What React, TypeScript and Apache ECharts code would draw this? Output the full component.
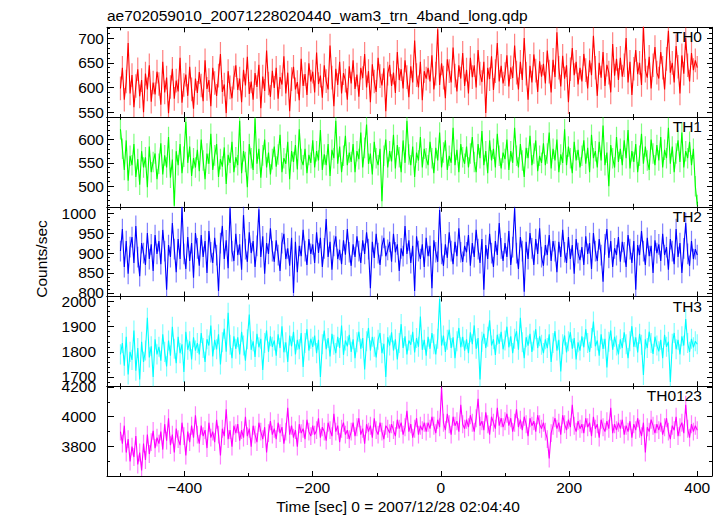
import React, { useEffect, useRef } from 'react';
import * as echarts from 'echarts';

const TITLE = 'ae702059010_20071228020440_wam3_trn_4band_long.qdp';
const X_LABEL = 'Time [sec] 0 = 2007/12/28 02:04:40';
const Y_LABEL = 'Counts/sec';

const T_START = -500;
const T_STEP = 3;
const X_MIN = -521;
const X_MAX = 423;
const X_MAJOR = [-400, -200, 0, 200, 400];
const X_MINOR = [-500, -300, -100, 100, 300];

const BANDS = ['TH0', 'TH1', 'TH2', 'TH3', 'TH0123'];
const COLORS = ['#ff0000', '#00ff00', '#0000ff', '#00ffff', '#ff00ff'];
const Y_MIN = [540, 456, 791, 1663, 3603];
const Y_MAX = [722, 648, 1016, 2020, 4204];
const Y_MAJOR = [
  [550, 600, 650, 700],
  [500, 550, 600],
  [800, 850, 900, 950, 1000],
  [1700, 1800, 1900, 2000],
  [3800, 4000, 4200],
];
const Y_MINOR = [
  [550, 560, 570, 580, 590, 610, 620, 630, 640, 660, 670, 680, 690, 710, 720],
  [460, 470, 480, 490, 510, 520, 530, 540, 560, 570, 580, 590, 610, 620, 630, 640],
  [810, 820, 830, 840, 860, 870, 880, 890, 910, 920, 930, 940, 960, 970, 980, 990, 1010],
  [1680, 1720, 1740, 1760, 1780, 1820, 1840, 1860, 1880, 1920, 1940, 1960, 1980, 2020],
  [3700, 3900, 4100],
];
const ERR = [24, 22, 26, 40, 60];

const TH0 = [
  598, 640, 575, 612, 690, 588, 625, 560, 603, 637, 582, 615, 550, 628, 596, 645, 571, 610, 586, 632,
  607, 565, 652, 590, 620, 548, 601, 638, 577, 614, 592, 660, 569, 605, 626, 583, 642, 596, 557, 618,
  589, 631, 604, 572, 655, 597, 615, 562, 640, 609, 583, 624, 668, 591, 606, 548, 633, 600, 578, 620,
  645, 595, 618, 570, 636, 604, 662, 587, 612, 575, 629, 601, 646, 558, 622, 593, 675, 608, 581, 634,
  599, 640, 577, 621, 606, 663, 588, 630, 552, 617, 642, 596, 611, 574, 658, 603, 627, 585, 649, 612,
  632, 590, 671, 607, 624, 579, 645, 613, 596, 685, 620, 562, 638, 605, 652, 588, 629, 614, 575, 643,
  608, 655, 597, 626, 581, 640, 619, 668, 600, 633, 570, 647, 612, 591, 660, 623, 604, 639, 552, 628,
  646, 603, 630, 589, 672, 615, 637, 598, 655, 621, 580, 643, 610, 695, 625, 600, 652, 574, 633, 618,
  640, 612, 665, 596, 628, 718, 605, 649, 620, 578, 657, 633, 610, 681, 624, 592, 645, 618, 670, 603,
  636, 588, 660, 621, 645, 600, 676, 628, 611, 652, 548, 640, 617, 663, 595, 633, 690, 612, 644, 608,
  627, 665, 602, 641, 619, 685, 630, 596, 652, 615, 700, 628, 575, 644, 610, 667, 634, 591, 653, 622,
  648, 608, 675, 632, 590, 656, 621, 712, 640, 602, 664, 618, 645, 570, 637, 680, 625, 652, 606, 640,
  612, 668, 635, 598, 655, 625, 705, 640, 583, 650, 620, 672, 603, 646, 630, 590, 688, 624, 658, 615,
  660, 622, 645, 700, 610, 652, 585, 638, 676, 627, 650, 605, 725, 634, 620, 662, 598, 645, 682, 630,
  618, 672, 640, 596, 658, 715, 630, 650, 610, 684, 642, 588, 665, 628, 700, 645, 612, 670, 635, 655,
  640,
];
const TH1 = [
  622, 580, 535, 598, 512, 565, 545, 590, 520, 558, 503, 575, 540, 562, 498, 585, 530, 552, 570, 515,
  548, 592, 525, 566, 540, 605, 518, 557, 458, 575, 545, 590, 528, 563, 638, 550, 585, 522, 560, 540,
  578, 532, 600, 555, 515, 570, 548, 612, 535, 566, 590, 520, 558, 542, 583, 505, 567, 550, 595, 530,
  562, 545, 640, 528, 575, 552, 498, 590, 560, 535, 645, 548, 580, 518, 566, 600, 540, 572, 525, 558,
  585, 542, 568, 610, 530, 560, 548, 595, 515, 575, 552, 588, 536, 622, 558, 545, 580, 528, 567, 550,
  598, 540, 575, 555, 620, 535, 568, 545, 590, 522, 578, 560, 640, 548, 585, 530, 565, 608, 545, 572,
  552, 590, 530, 575, 558, 615, 540, 582, 632, 548, 570, 525, 595, 560, 545, 580, 468, 565, 600, 540,
  575, 553, 610, 538, 588, 562, 530, 598, 550, 640, 568, 545, 585, 520, 572, 555, 605, 540, 580, 560,
  545, 595, 560, 528, 582, 555, 615, 540, 572, 598, 535, 565, 550, 625, 545, 578, 530, 590, 562, 548,
  585, 540, 570, 605, 552, 530, 590, 560, 618, 545, 575, 528, 598, 555, 580, 540, 612, 565, 538, 572,
  558, 600, 535, 575, 550, 625, 565, 540, 590, 555, 520, 582, 560, 608, 545, 570, 598, 532, 565, 550,
  592, 545, 570, 615, 538, 580, 555, 600, 530, 568, 550, 622, 545, 585, 560, 528, 595, 555, 578, 540,
  565, 598, 548, 582, 530, 610, 560, 575, 540, 595, 555, 630, 545, 572, 500, 588, 560, 540, 605, 552,
  580, 545, 598, 560, 620, 538, 575, 552, 590, 530, 565, 612, 548, 585, 555, 535, 600, 570, 545, 588,
  555, 605, 540, 578, 560, 625, 548, 585, 530, 570, 598, 552, 615, 540, 575, 560, 595, 545, 580, 500,
  460,
];
const TH2 = [
  905, 960, 865, 930, 848, 915, 940, 875, 968, 890, 842, 925, 900, 870, 950, 885, 922, 855, 945, 898,
  930, 872, 958, 905, 808, 920, 890, 975, 910, 852, 935, 885, 1015, 898, 860, 940, 880, 925, 838, 950,
  912, 868, 945, 890, 930, 850, 955, 902, 875, 938, 895, 805, 925, 968, 885, 932, 862, 1012, 905, 880,
  948, 895, 922, 858, 995, 910, 878, 952, 900, 930, 865, 918, 1010, 890, 942, 848, 925, 898, 962, 905,
  878, 932, 895, 855, 925, 948, 885, 912, 868, 938, 800, 928, 852, 918, 892, 958, 905, 870, 935, 898,
  922, 875, 952, 900, 938, 865, 912, 985, 890, 928, 858, 918, 942, 885, 908, 872, 932, 896, 960, 902,
  868, 922, 890, 942, 905, 875, 932, 898, 952, 910, 812, 928, 888, 948, 900, 870, 918, 938, 892, 908,
  928, 878, 948, 902, 922, 855, 912, 892, 968, 898, 932, 875, 918, 805, 942, 905, 885, 922, 865, 938,
  892, 918, 812, 932, 902, 878, 1008, 898, 868, 922, 888, 952, 905, 872, 928, 892, 962, 902, 878, 918,
  902, 945, 868, 925, 890, 958, 910, 875, 935, 808, 920, 885, 948, 900, 865, 930, 895, 975, 912, 880,
  925, 890, 955, 870, 915, 1012, 900, 860, 940, 905, 803, 928, 885, 950, 912, 870, 935, 898, 962, 890,
  868, 920, 895, 945, 880, 930, 905, 852, 928, 890, 958, 902, 875, 940, 885, 920, 848, 935, 900, 882,
  915, 870, 942, 898, 925, 860, 950, 905, 880, 935, 895, 828, 922, 960, 888, 930, 865, 912, 895, 940,
  878, 928, 902, 865, 945, 910, 875, 930, 808, 920, 895, 955, 905, 870, 938, 892, 918, 850, 932, 900,
  922, 880, 948, 895, 915, 858, 935, 905, 872, 960, 890, 925, 850, 912, 975, 898, 868, 930, 885, 910,
  895,
];
const TH3 = [
  1790, 1835, 1745, 1860, 1710, 1800, 1768, 1885, 1725, 1815, 1690, 1840, 1760, 1805, 1935, 1778, 1822, 1700, 1850, 1790,
  1820, 1765, 1870, 1800, 1742, 1845, 1785, 1900, 1812, 1755, 1860, 1795, 1830, 1720, 1880, 1808, 1842, 1770, 1858, 1805,
  1835, 1790, 1875, 1815, 1760, 1850, 1825, 1905, 1782, 1848, 1810, 1870, 1750, 1838, 1892, 1800, 1955, 1828, 1775, 1862,
  1812, 1858, 1790, 1880, 1825, 1765, 1850, 1948, 1808, 1842, 1780, 1872, 1818, 1852, 1728, 1835, 1885, 1800, 1862, 1820,
  1845, 1785, 1870, 1815, 1902, 1798, 1838, 1760, 1865, 1822, 1880, 1790, 1848, 1810, 1875, 1740, 1835, 1890, 1805, 1852,
  1820, 1865, 1795, 1848, 1700, 1830, 1885, 1810, 1855, 1782, 1872, 1828, 1795, 1860, 1815, 1905, 1788, 1845, 1822, 1868,
  1800, 1850, 1775, 1838, 1880, 1812, 1855, 1730, 1842, 1895, 1805, 1860, 1820, 1778, 1848, 1875, 1795, 1832, 1700, 1858,
  1825, 1878, 1805, 1850, 1770, 1835, 1910, 1815, 1862, 1790, 1845, 1828, 1880, 1798, 1855, 1820, 1940, 1808, 1848, 1785,
  1860, 1812, 1875, 1830, 1790, 1852, 2010, 1825, 1865, 1800, 1848, 1888, 1815, 1858, 1775, 1842, 1895, 1818, 1860, 1805,
  1850, 1795, 1878, 1830, 1905, 1812, 1855, 1690, 1840, 1872, 1815, 1860, 1925, 1825, 1850, 1788, 1868, 1832, 1880, 1810,
  1845, 1900, 1818, 1862, 1795, 1852, 1882, 1808, 1935, 1838, 1775, 1858, 1825, 1872, 1800, 1845, 1890, 1815, 1862, 1828,
  1795, 1850, 1815, 1870, 1760, 1835, 1882, 1805, 1848, 1722, 1830, 1865, 1798, 1842, 1878, 1812, 1855, 1770, 1838, 1805,
  1862, 1818, 1890, 1835, 1800, 1855, 1920, 1822, 1845, 1785, 1870, 1812, 1852, 1738, 1840, 1885, 1808, 1860, 1825, 1790,
  1850, 1815, 1878, 1830, 1775, 1842, 1902, 1820, 1858, 1798, 1872, 1828, 1708, 1850, 1815, 1880, 1835, 1792, 1860, 1825,
  1802, 1848, 1775, 1868, 1820, 1840, 1680, 1832, 1875, 1810, 1848, 1790, 1862, 1825, 1930, 1835, 1800, 1852, 1818, 1842,
  1830,
];
const TH0123 = [
  3900, 3820, 3940, 3760, 3850, 3700, 3800, 3730, 3870, 3680, 3760, 3640, 3820, 3710, 3880, 3750, 3830, 3905, 3790, 3860,
  3820, 3900, 3780, 3950, 3840, 3990, 3810, 3880, 3760, 3920, 3850, 3810, 3960, 3870, 3740, 3900, 3830, 3940, 3860, 4010,
  3880, 3820, 3940, 3870, 3910, 3790, 3960, 3860, 3900, 3830, 3980, 3880, 3740, 3920, 3870, 4050, 3850, 3910, 3800, 3940,
  3890, 3950, 3840, 3910, 3860, 4000, 3870, 3920, 3800, 3940, 3880, 3830, 3960, 3900, 3850, 3930, 3760, 3890, 3970, 3880,
  3920, 3850, 3960, 3890, 3930, 3820, 3900, 4060, 3880, 3940, 3860, 3910, 3800, 3950, 3890, 3920, 3850, 3980, 3900, 3870,
  3940, 3880, 3910, 3990, 3860, 3930, 3900, 3840, 3960, 3910, 3870, 4020, 3900, 3940, 3830, 3920, 3960, 3880, 3910, 3850,
  3900, 3960, 3870, 3930, 3990, 3880, 3920, 3820, 3950, 3900, 3940, 3860, 3990, 3910, 3880, 3960, 3900, 3850, 3940, 3920,
  3890, 3950, 3910, 3870, 3980, 3920, 3960, 3880, 3930, 4040, 3900, 3950, 3860, 3920, 3990, 3880, 3940, 3910, 3960, 3900,
  3960, 3920, 4000, 3940, 3890, 3980, 3930, 4190, 3960, 3910, 4020, 3950, 3880, 4000, 3940, 3970, 3900, 4080, 3950, 3920,
  3980, 3930, 4010, 3960, 3900, 3990, 4120, 3940, 3970, 3910, 4030, 3950, 3880, 4000, 3960, 3920, 4060, 3940, 3990, 3930,
  3970, 4020, 3940, 3990, 3900, 3960, 4050, 3930, 3980, 3910, 4000, 3950, 3870, 3990, 3940, 3970, 3900, 4010, 3950, 3920,
  3960, 3900, 3850, 3720, 3890, 3940, 3990, 3920, 3960, 3880, 4010, 3950, 3910, 3980, 3930, 4080, 3940, 3900, 3970, 3920,
  3950, 3890, 3990, 3930, 3960, 3870, 4000, 3920, 3950, 3860, 3980, 3930, 3900, 3970, 3920, 4060, 3890, 3950, 3910, 3960,
  3920, 3980, 3880, 3940, 3900, 3970, 3860, 3950, 3910, 3990, 3920, 3870, 3960, 3760, 3930, 3900, 3980, 3940, 3890, 3950,
  3910, 3960, 3880, 3930, 3990, 3900, 3850, 3940, 3910, 4000, 3870, 3930, 3960, 3890, 4080, 3920, 3860, 3950, 3900, 3940,
  3910,
];
const SERIES = [TH0, TH1, TH2, TH3, TH0123];

const FONT = "'Liberation Sans', Arial, Helvetica, sans-serif";
const FS = 15.5;
const PANEL_TOP = 27.3;
const PANEL_H = 89.74;
const LEFT = 107;
const WIDTH = 605;

const fmtMinus = (v: number) => (v < 0 ? '\u2212' + Math.abs(v) : String(v));

function buildOption() {
  const grids: any[] = [];
  const xAxes: any[] = [];
  const yAxes: any[] = [];
  const series: any[] = [];
  const graphic: any[] = [];
  const line = { show: true, onZero: false, lineStyle: { color: '#000', width: 1 } };
  const noLine = { show: false, onZero: false };

  BANDS.forEach((band, i) => {
    const top = PANEL_TOP + i * PANEL_H;
    grids.push({ left: LEFT, width: WIDTH, top, height: PANEL_H, containLabel: false, outerBoundsMode: 'none' });
    const last = i === BANDS.length - 1;
    const xBase = { type: 'value', gridIndex: i, min: X_MIN, max: X_MAX, splitLine: { show: false } };
    const tickStyle = { color: '#000', width: 1 };
    xAxes.push(
      {
        ...xBase, position: 'bottom', axisLine: line,
        axisTick: { show: true, inside: true, length: 5, customValues: X_MAJOR, lineStyle: tickStyle },
        axisLabel: last
          ? { show: true, customValues: X_MAJOR, margin: 3, fontSize: FS, fontFamily: FONT, color: '#000', formatter: fmtMinus }
          : { show: false },
      },
      {
        ...xBase, position: 'top', axisLine: line,
        axisTick: { show: true, inside: true, length: 5, customValues: X_MAJOR, lineStyle: tickStyle },
        axisLabel: { show: false },
      },
      {
        ...xBase, position: 'bottom', axisLine: noLine,
        axisTick: { show: true, inside: true, length: 3, customValues: X_MINOR, lineStyle: tickStyle },
        axisLabel: { show: false },
      },
      {
        ...xBase, position: 'top', axisLine: noLine,
        axisTick: { show: true, inside: true, length: 3, customValues: X_MINOR, lineStyle: tickStyle },
        axisLabel: { show: false },
      },
    );
    const yBase = { type: 'value', gridIndex: i, min: Y_MIN[i], max: Y_MAX[i], splitLine: { show: false } };
    yAxes.push(
      {
        ...yBase, position: 'left', axisLine: line,
        axisTick: { show: true, inside: true, length: 7, customValues: Y_MAJOR[i], lineStyle: tickStyle },
        axisLabel: {
          show: true, customValues: Y_MAJOR[i], margin: 3, fontSize: FS, fontFamily: FONT, color: '#000',
          formatter: (v: number) => (v >= 1000 ? `{p|${v}}` : String(v)),
          rich: { p: { padding: [0, 8, 0, 0], fontSize: FS, fontFamily: FONT, color: '#000' } },
        },
      },
      {
        ...yBase, position: 'right', axisLine: line,
        axisTick: { show: true, inside: true, length: 5, customValues: Y_MAJOR[i], lineStyle: tickStyle },
        axisLabel: { show: false },
      },
      {
        ...yBase, position: 'left', axisLine: noLine,
        axisTick: { show: true, inside: true, length: 3, customValues: Y_MINOR[i], lineStyle: tickStyle },
        axisLabel: { show: false },
      },
      {
        ...yBase, position: 'right', axisLine: noLine,
        axisTick: { show: true, inside: true, length: 3, customValues: Y_MINOR[i], lineStyle: tickStyle },
        axisLabel: { show: false },
      },
    );

    const vals = SERIES[i];
    const color = COLORS[i];
    const err = ERR[i];
    series.push(
      {
        type: 'custom',
        xAxisIndex: i * 4,
        yAxisIndex: i * 4,
        silent: true,
        clip: true,
        encode: { x: 0, y: 1 },
        data: vals.map((v, k) => [T_START + k * T_STEP, v, err]),
        renderItem: (params: any, api: any) => {
          const x = api.value(0);
          const y = api.value(1);
          const e = api.value(2);
          const p1 = api.coord([x, y - e]);
          const p2 = api.coord([x, y + e]);
          return {
            type: 'line',
            shape: { x1: p1[0], y1: p1[1], x2: p2[0], y2: p2[1] },
            style: { stroke: color, lineWidth: 1.2, opacity: 0.5 },
          };
        },
      },
      {
        type: 'line',
        xAxisIndex: i * 4,
        yAxisIndex: i * 4,
        silent: true,
        clip: true,
        symbol: 'none',
        showSymbol: false,
        lineStyle: { color, width: 1.1 },
        data: vals.map((v, k) => [T_START + k * T_STEP, v]),
      },
    );

    graphic.push({
      type: 'text',
      x: 702,
      y: top + 9.5,
      silent: true,
      z: 100,
      style: { text: band, fontSize: FS, fontFamily: FONT, fill: '#000', align: 'right', verticalAlign: 'middle' },
    });
  });

  graphic.push(
    {
      type: 'text', x: LEFT, y: 15.5, silent: true,
      style: { text: TITLE, fontSize: FS, fontFamily: FONT, fill: '#000', align: 'left', verticalAlign: 'middle' },
    },
    {
      type: 'text', x: 398, y: 506, silent: true,
      style: { text: X_LABEL, fontSize: FS, fontFamily: FONT, fill: '#000', align: 'center', verticalAlign: 'middle' },
    },
    {
      type: 'text', x: 41, y: 259, rotation: Math.PI / 2, silent: true,
      style: { text: Y_LABEL, fontSize: FS, fontFamily: FONT, fill: '#000', align: 'center', verticalAlign: 'middle' },
    },
  );

  return {
    animation: false,
    backgroundColor: '#fff',
    grid: grids,
    xAxis: xAxes,
    yAxis: yAxes,
    series,
    graphic,
  };
}

export default function App() {
  const ref = useRef<HTMLDivElement>(null);
  useEffect(() => {
    if (!ref.current) return;
    const chart = echarts.init(ref.current, null, { renderer: 'svg' });
    chart.setOption(buildOption() as any);
    return () => chart.dispose();
  }, []);
  return (
    <div
      ref={ref}
      style={{ position: 'fixed', left: 0, top: 0, width: 724, height: 516, background: '#fff' }}
    />
  );
}
